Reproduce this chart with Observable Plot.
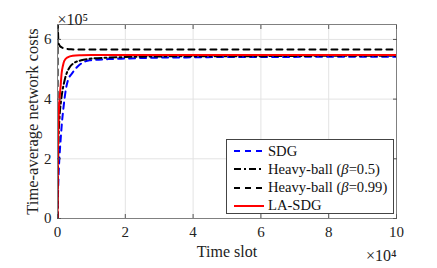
<!DOCTYPE html>
<html>
<head>
<meta charset="utf-8">
<script src="https://cdn.jsdelivr.net/npm/d3@7"></script>
<script src="https://cdn.jsdelivr.net/npm/@observablehq/plot@0.6"></script>
<style>
  body { margin: 0; background: #fff; }
  #wrap { position: relative; width: 437px; height: 268px; font-family: "Liberation Serif", "Times New Roman", Times, serif; }
  #wrap svg text { font-family: "Liberation Serif", "Times New Roman", Times, serif; }
  #legend { position: absolute; left: 226px; top: 139px; width: 166px; height: 73px; background: #fff; border: 1px solid #444; font-size: 14.6px; color: #111; }
  .row { position: absolute; left: 0; height: 18px; display: flex; align-items: center; white-space: nowrap; }
  .row svg { margin-left: 7px; margin-right: 4px; }
</style>
</head>
<body>
<div id="wrap"></div>
<script>
// x in units of 1e4 time slots, y in units of 1e5
const xTicks = [0, 2, 4, 6, 8, 10];
const yTicks = [0, 2, 4, 6];
const seriesNames = ["SDG", "Heavy-ball (β=0.5)", "Heavy-ball (β=0.99)", "LA-SDG"];

const sdgX = [0, 0.01, 0.03, 0.06, 0.09, 0.13, 0.18, 0.25, 0.3, 0.44, 0.65, 0.95, 1.5, 2, 3, 4, 5, 6, 8, 10];
const sdgY = [0, 0.6, 1.4, 2.1, 2.6, 3.2, 3.75, 4.35, 4.6, 4.88, 5.15, 5.3, 5.34, 5.36, 5.39, 5.40, 5.41, 5.41, 5.42, 5.42];

const hb05X = [0, 0.01, 0.03, 0.06, 0.1, 0.15, 0.2, 0.25, 0.35, 0.5, 0.7, 0.95, 1.5, 2, 3, 4, 6, 8, 10];
const hb05Y = [0, 1.2, 2.6, 3.4, 3.9, 4.3, 4.58, 4.8, 5.05, 5.22, 5.3, 5.35, 5.39, 5.41, 5.43, 5.44, 5.44, 5.45, 5.45];

const hb099X = [0, 0.005, 0.01, 0.02, 0.03, 0.06, 0.1, 0.24, 0.4, 0.7, 1, 2, 4, 6, 8, 10];
const hb099Y = [0, 6.8, 6.5, 6.1, 5.88, 5.8, 5.75, 5.69, 5.67, 5.66, 5.66, 5.66, 5.66, 5.66, 5.66, 5.66];

const lasdgX = [0, 0.01, 0.03, 0.06, 0.09, 0.12, 0.16, 0.2, 0.3, 0.45, 0.7, 1, 2, 4, 6, 8, 10];
const lasdgY = [0, 2.1, 3.3, 4.0, 4.4, 4.85, 5.12, 5.28, 5.4, 5.45, 5.47, 5.48, 5.48, 5.48, 5.48, 5.48, 5.48];

const styles = [
  {stroke: "#0000ff", dash: "6,5"},
  {stroke: "#000000", dash: "7,3,2,3"},
  {stroke: "#000000", dash: "6,5"},
  {stroke: "#ff0000", dash: null}
];
const xs = [sdgX, hb05X, hb099X, lasdgX];
const ys = [sdgY, hb05Y, hb099Y, lasdgY];
const tables = xs.map((xa, i) => xa.map((x, j) => ({x, y: ys[i][j]})));

const lineMarks = tables.map((t, i) => Plot.line(t, {
  x: "x", y: "y", stroke: styles[i].stroke, strokeWidth: 2,
  strokeDasharray: styles[i].dash, curve: "monotone-x", clip: true
}));

const font = "'Liberation Serif', 'Times New Roman', Times, serif";
const chart = Plot.plot({
  width: 437, height: 268,
  marginLeft: 57, marginRight: 41, marginTop: 24, marginBottom: 50,
  style: {fontFamily: font, fontSize: "14px", background: "#fff", color: "#222"},
  x: {domain: [0, 10]},
  y: {domain: [0, 6.5]},
  marks: [
    Plot.gridX(xTicks, {stroke: "#e3e3e3", strokeOpacity: 1}),
    Plot.gridY(yTicks, {stroke: "#e3e3e3", strokeOpacity: 1}),
    ...lineMarks,
    Plot.frame({stroke: "#808080"}),
    Plot.axisX(xTicks, {anchor: "bottom", tickSize: -4, tickPadding: 12, label: null, fontSize: 15, stroke: "#555", fill: "#222"}),
    Plot.axisX(xTicks, {anchor: "top", tickSize: -4, tickFormat: () => "", label: null, stroke: "#555"}),
    Plot.axisY(yTicks, {anchor: "left", tickSize: -4, tickPadding: 10, label: null, fontSize: 15, stroke: "#555", fill: "#222"}),
    Plot.axisY(yTicks, {anchor: "right", tickSize: -4, tickFormat: () => "", label: null, stroke: "#555"}),
    Plot.text(["Time slot"], {frameAnchor: "bottom", dy: 38, fontSize: 16, fill: "#222"}),
    Plot.text(["Time-average network costs"], {frameAnchor: "left", textAnchor: "middle", rotate: -90, dx: -25, fontSize: 16.5, fill: "#222"}),
    Plot.text(["×10⁵"], {frameAnchor: "top-left", textAnchor: "start", dy: -11, dx: 0, fontSize: 16, fill: "#222"}),
    Plot.text(["×10⁴"], {frameAnchor: "bottom-right", textAnchor: "end", dy: 42, dx: 0, fontSize: 16, fill: "#222"})
  ]
});

const wrap = document.getElementById("wrap");
wrap.appendChild(chart);

const legend = document.createElement("div");
legend.id = "legend";
seriesNames.forEach((name, i) => {
  const row = document.createElement("div");
  row.className = "row";
  row.style.top = (2 + i * 18.3) + "px";
  const dash = styles[i].dash ? `stroke-dasharray="${styles[i].dash}"` : "";
  const label = name.replace("β", "<i>β</i>");
  row.innerHTML = `<svg width="30" height="6"><line x1="0" y1="3" x2="30" y2="3" stroke="${styles[i].stroke}" stroke-width="2" ${dash}/></svg><span>${label}</span>`;
  legend.appendChild(row);
});
wrap.appendChild(legend);
</script>
</body>
</html>
